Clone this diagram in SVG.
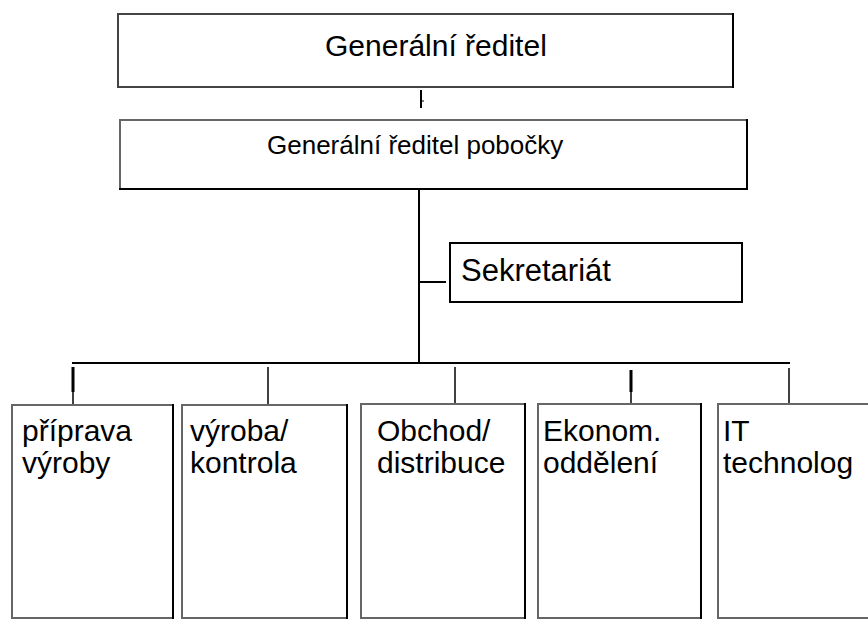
<svg xmlns="http://www.w3.org/2000/svg" width="868" height="619" viewBox="0 0 868 619">
<style>
.box{fill:#fff;stroke:#666;stroke-width:2}
.dark{stroke:#000}
.mid{stroke:#444}
.edge{stroke:#000;stroke-width:2}
.ln{stroke:#000;stroke-width:2;fill:none}
.t{font-family:"Liberation Sans",Arial,sans-serif;fill:#000}
</style>
<rect width="868" height="619" fill="#fff"/>
<g id="connectors">
<line class="ln" x1="421" y1="90" x2="421" y2="108"/>
<line class="ln" x1="421" y1="101" x2="424" y2="101" style="stroke-width:1"/>
<line class="ln" x1="419" y1="189" x2="419" y2="363"/>
<line class="ln" x1="419" y1="282" x2="446" y2="282"/>
<line class="ln" x1="72" y1="363" x2="790" y2="363"/>
<line class="ln" x1="73" y1="367" x2="73" y2="392" style="stroke-width:3"/>
<line class="ln" x1="73" y1="392" x2="73" y2="405" style="stroke-width:1.5"/>
<line class="ln" x1="268" y1="367" x2="268" y2="405" style="stroke-width:1.5"/>
<line class="ln" x1="455" y1="367" x2="455" y2="404" style="stroke-width:1.5"/>
<line class="ln" x1="631" y1="370" x2="631" y2="392" style="stroke-width:3"/>
<line class="ln" x1="631" y1="392" x2="631" y2="404" style="stroke-width:1.5"/>
<line class="ln" x1="789" y1="368" x2="789" y2="404" style="stroke-width:1.5"/>
</g>
<g id="n-generalni-reditel">
<rect class="box mid" x="118" y="14" width="615" height="73"/>
<line class="edge" x1="733" y1="13" x2="733" y2="88"/>
<text class="t" x="325" y="56" font-size="30">Generální ředitel</text>
</g>
<g id="n-reditel-pobocky">
<rect class="box" x="120" y="120" width="627" height="69"/>
<line class="edge" x1="747" y1="119" x2="747" y2="190"/>
<line class="edge" x1="119" y1="189" x2="748" y2="189"/>
<text class="t" x="267" y="154" font-size="26">Generální ředitel pobočky</text>
</g>
<g id="n-sekretariat">
<rect class="box dark" x="450" y="243" width="292" height="59"/>
<text class="t" x="461" y="281" font-size="31">Sekretariát</text>
</g>
<g id="n-priprava">
<rect class="box" x="12" y="405" width="161" height="213"/>
<line class="edge" x1="173" y1="404" x2="173" y2="619"/>
<text class="t" x="22" y="441" font-size="30">příprava</text>
<text class="t" x="22" y="473" font-size="30">výroby</text>
</g>
<g id="n-vyroba">
<rect class="box" x="182" y="405" width="165" height="213"/>
<line class="edge" x1="347" y1="404" x2="347" y2="619"/>
<text class="t" x="190" y="441" font-size="30">výroba/</text>
<text class="t" x="190" y="473" font-size="30">kontrola</text>
</g>
<g id="n-obchod">
<rect class="box" x="361" y="404" width="164" height="214"/>
<line class="edge" x1="525" y1="403" x2="525" y2="619"/>
<text class="t" x="377" y="441" font-size="30">Obchod/</text>
<text class="t" x="377" y="473" font-size="30">distribuce</text>
</g>
<g id="n-ekonom">
<rect class="box" x="538" y="404" width="163" height="214"/>
<line class="edge" x1="701" y1="403" x2="701" y2="619"/>
<text class="t" x="543" y="441" font-size="30">Ekonom.</text>
<text class="t" x="543" y="473" font-size="30">oddělení</text>
</g>
<g id="n-it">
<rect class="box" x="718" y="404" width="170" height="214"/>
<text class="t" x="723" y="441" font-size="30">IT</text>
<text class="t" x="723" y="473" font-size="30">technolog</text>
</g>
</svg>
